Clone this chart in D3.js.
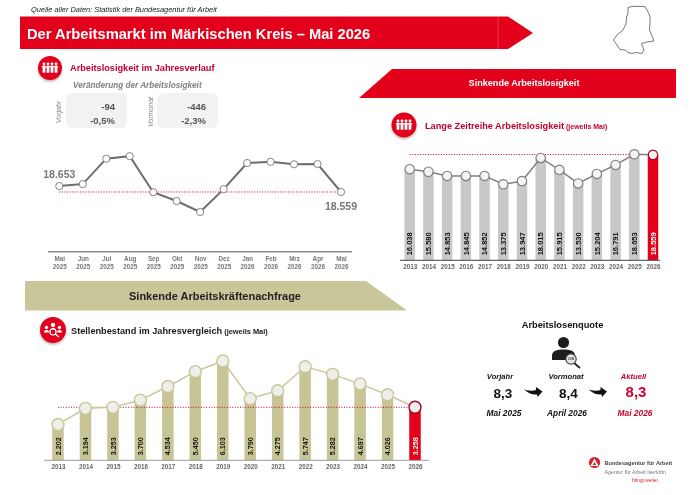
<!DOCTYPE html>
<html lang="de">
<head>
<meta charset="utf-8">
<script src="https://cdn.jsdelivr.net/npm/d3@7"></script>
<style>
html,body{margin:0;padding:0;background:#fff}
svg{display:block;filter:blur(.3px)}
text{font-family:"Liberation Sans",Arial,sans-serif}
</style>
</head>
<body>
<svg id="c" width="700" height="495" viewBox="0 0 700 495"></svg>
<script>
const monthNames = ["Mai","Jun","Jul","Aug","Sep","Okt","Nov","Dez","Jan","Feb","Mrz","Apr","Mai"];
const monthYears = ["2025","2025","2025","2025","2025","2025","2025","2025","2026","2026","2026","2026","2026"];
const monthlyValues = [18653,18685,19090,19130,18555,18415,18240,18605,19020,19040,19000,19005,18559];
const years = [2013,2014,2015,2016,2017,2018,2019,2020,2021,2022,2023,2024,2025,2026];
const longSeries = [16038,15580,14853,14845,14852,13375,13947,18015,15915,13530,15204,16791,18653,18559];
const jobSeries = [2202,3194,3253,3700,4534,5450,6103,3790,4275,5747,5282,4697,4026,3258];
const fmt = d3.format(",");
const deNum = v => fmt(v).replace(/,/g,".");

const RED="#e2001a", CRIM="#c4002f", TAN="#c7c495", TANL="#c9c69a";
const svg = d3.select("#c");
const defs = svg.append("defs");
const f = defs.append("filter").attr("id","sh").attr("x","-30%").attr("y","-30%").attr("width","160%").attr("height","170%");
f.append("feDropShadow").attr("dx",0).attr("dy",1.5).attr("stdDeviation",1.2).attr("flood-color","#000").attr("flood-opacity",.3);

function T(x,y,s,o={}){
  return svg.append("text").attr("x",x).attr("y",y).text(s)
    .attr("font-size",o.size||9).attr("font-weight",o.w||"bold")
    .attr("font-style",o.i?"italic":"normal").attr("fill",o.c||"#000")
    .attr("text-anchor",o.a||"start").attr("dominant-baseline","central")
    .attr("transform",o.r?`rotate(${o.r} ${x} ${y})`:null);
}

/* banners */
svg.append("path").attr("d","M20 16.5H508L533 33L508 49H20Z").attr("fill",RED);
svg.append("line").attr("x1",498).attr("x2",498).attr("y1",16.5).attr("y2",49).attr("stroke","#f0505f").attr("stroke-width",.7);
svg.append("path").attr("d","M392 69H676V98H359Z").attr("fill",RED);
svg.append("path").attr("d","M25 281H366L407 310.5H25Z").attr("fill",TANL);

T(31,9.5,"Quelle aller Daten: Statistik der Bundesagentur für Arbeit",{size:7.4,w:"normal",i:1,c:"#222"});
T(27,33.5,"Der Arbeitsmarkt im Märkischen Kreis – Mai 2026",{size:14.7,c:"#fff"});
T(524,83,"Sinkende Arbeitslosigkeit",{size:9.1,c:"#fff",a:"middle"});
T(215,296,"Sinkende Arbeitskräftenachfrage",{size:11,c:"#222",a:"middle"});

/* district outline */
svg.append("path").attr("fill","none").attr("stroke","#555").attr("stroke-width",.8)
 .attr("d","M628 7.5L632 6.5L639 6.3L645 6.7L647 10L649 14L650 17L650 23L649.5 30L651.5 35L653 38L653.5 41L647 42L641.5 43.5L644 50L642 53.5L636 52.5L632 53.5L628 52.5L625 50L620 49.5L617 45L613.5 40L617 35L623 30L626 24L626.5 17L628 13Z");

/* round icons */
function peopleIcon(cx,cy,r){
  const g=svg.append("g");
  g.append("circle").attr("cx",cx).attr("cy",cy).attr("r",r).attr("fill",RED).attr("filter","url(#sh)");
  [-6,-2,2,6].forEach(dx=>{
    g.append("circle").attr("cx",cx+dx).attr("cy",cy-4.2).attr("r",1.4).attr("fill","#fff");
    g.append("rect").attr("x",cx+dx-1.4).attr("y",cy-2.6).attr("width",2.8).attr("height",7.4).attr("rx",.6).attr("fill","#fff");
  });
  g.append("rect").attr("x",cx-8.2).attr("y",cy-1.8).attr("width",16.4).attr("height",1.2).attr("fill","#fff");
}
peopleIcon(50,68,12);
peopleIcon(404,125,12.5);
{
  const cx=53,cy=330,g=svg.append("g");
  g.append("circle").attr("cx",cx).attr("cy",cy).attr("r",13).attr("fill",RED).attr("filter","url(#sh)");
  [[-6.5,-2.5,1.7],[6.5,-2.5,1.7],[0,-5,2.2]].forEach(([dx,dy,r])=>{
    g.append("circle").attr("cx",cx+dx).attr("cy",cy+dy).attr("r",r).attr("fill","#fff");
    g.append("path").attr("d",`M${cx+dx-r*1.5} ${cy+dy+r*3}a${r*1.5} ${r*1.6} 0 0 1 ${r*3} 0Z`).attr("fill","#fff");
  });
  g.append("circle").attr("cx",cx).attr("cy",cy+2).attr("r",3).attr("fill",RED).attr("stroke","#fff").attr("stroke-width",1.2);
  g.append("line").attr("x1",cx+2).attr("y1",cy+4).attr("x2",cx+6).attr("y2",cy+7).attr("stroke","#fff").attr("stroke-width",1.4);
}

/* section titles */
T(70,68,"Arbeitslosigkeit im Jahresverlauf",{size:9.2,c:CRIM});
T(73,85,"Veränderung der Arbeitslosigkeit",{size:8.2,c:"#808080",i:1});
T(425,126,"Lange Zeitreihe Arbeitslosigkeit",{size:9.2,c:CRIM})
  .append("tspan").text(" (jeweils Mai)").attr("font-size",7);
T(71,331,"Stellenbestand im Jahresvergleich",{size:9.2,c:"#1a1a1a"})
  .append("tspan").text(" (jeweils Mai)").attr("font-size",7.4);

/* change boxes */
[[66,"Vorjahr","-94","-0,5%",58],[157,"Vormonat","-446","-2,3%",150]].forEach(([x,l,a,b,lx])=>{
  svg.append("rect").attr("x",x).attr("y",93).attr("width",61).attr("height",35).attr("rx",6).attr("fill","#f2f2f2");
  T(lx,112,l,{size:7,w:"normal",i:1,c:"#888",a:"middle",r:-90});
  T(x+49,106.5,a,{size:9.5,c:"#555",a:"end"});
  T(x+49,120,b,{size:9.5,c:"#555",a:"end"});
});

/* ---- monthly line chart ---- */
const x1 = d3.scalePoint().domain(d3.range(monthlyValues.length)).range([59.3,341]);
const y1 = d3.scaleLinear().domain([17608,19005]).range([251.7,164]);
{
  const ax = svg.append("g").attr("transform","translate(0,251.7)")
    .call(d3.axisBottom(x1).tickSize(0).tickFormat(""));
  ax.select(".domain").attr("d","M48 0H352").attr("stroke","#8a8a8a").attr("stroke-width",1.4);
  ax.selectAll(".tick text").remove();
  ax.selectAll(".tick").append("text").attr("fill","#777").attr("font-size",6.3).attr("font-weight","bold")
    .attr("text-anchor","middle").each(function(i){
      const t=d3.select(this);
      t.append("tspan").attr("x",0).attr("y",9.5).text(monthNames[i]);
      t.append("tspan").attr("x",0).attr("y",17.5).text(monthYears[i]);
    });
  const last = monthlyValues[monthlyValues.length-1];
  svg.append("line").attr("x1",x1(0)).attr("x2",x1(12)).attr("y1",y1(last)).attr("y2",y1(last))
    .attr("stroke",CRIM).attr("stroke-width",1).attr("stroke-dasharray","1 1.6");
  svg.append("path").datum(monthlyValues).attr("fill","none").attr("stroke","#6e6e6e").attr("stroke-width",2)
    .attr("d",d3.line().x((d,i)=>x1(i)).y(d=>y1(d)));
  svg.append("g").selectAll("circle").data(monthlyValues).join("circle")
    .attr("cx",(d,i)=>x1(i)).attr("cy",d=>y1(d)).attr("r",3.6)
    .attr("fill","#fff").attr("stroke","#777").attr("stroke-width",.9);
  T(x1(0),173.5,deNum(monthlyValues[0]),{size:10.5,c:"#777",a:"middle"});
  T(x1(12),206,deNum(last),{size:10.5,c:"#777",a:"middle"});
}

/* ---- bar + line combos ---- */
function combo(o){
  const x = d3.scalePoint().domain(o.years).range(o.xr);
  const y = d3.scaleLinear().domain([0,o.ref]).range([o.base,o.top]);
  const n = o.values.length-1;
  svg.append("g").selectAll("rect").data(o.values).join("rect")
    .attr("x",(d,i)=>x(o.years[i])-o.bw/2).attr("y",d=>y(d))
    .attr("width",o.bw).attr("height",d=>o.base-y(d))
    .attr("rx",0)
    .attr("fill",(d,i)=>i===n?RED:o.bar);
  const ax = svg.append("g").attr("transform",`translate(0,${o.base})`)
    .call(d3.axisBottom(x).tickSize(0).tickPadding(o.tp));
  ax.select(".domain").attr("d",`M${o.ax[0]} 0H${o.ax[1]}`).attr("stroke",o.axc).attr("stroke-width",o.axw);
  ax.selectAll(".tick text").attr("fill","#666").attr("font-size",6.3).attr("font-weight","bold")
    .attr("font-family",'"Liberation Sans",Arial,sans-serif');
  const ly = y(o.values[n]) ;
  svg.append("line").attr("x1",x(o.years[0])).attr("x2",x(o.years[n])).attr("y1",o.dot||ly).attr("y2",o.dot||ly)
    .attr("stroke",CRIM).attr("stroke-width",1).attr("stroke-dasharray","1 1.6");
  svg.append("path").datum(o.values).attr("fill","none").attr("stroke",o.lc).attr("stroke-width",o.lw)
    .attr("d",d3.line().x((d,i)=>x(o.years[i])).y(d=>y(d)));
  svg.append("g").selectAll("circle").data(o.values).join("circle")
    .attr("cx",(d,i)=>x(o.years[i])).attr("cy",d=>y(d)).attr("r",o.r)
    .attr("fill",o.cf).attr("stroke",(d,i)=>i===n?"#a80030":o.cs).attr("stroke-width",o.csw);
  svg.append("g").selectAll("text").data(o.values).join("text")
    .text(deNum)
    .attr("transform",(d,i)=>`translate(${x(o.years[i])+o.fs*.36},${o.base-5}) rotate(-90)`)
    .attr("font-size",o.fs).attr("font-weight","bold")
    .attr("fill",(d,i)=>i===n?"#fff":"#111");
}
combo({years,values:longSeries,xr:[409.7,653],ref:18653,base:260.3,top:154.3,bw:10.5,bar:"#c8c8c8",
  ax:[400,660],axc:"#666",axw:1.2,tp:4,lc:"#808080",lw:1.5,r:4.7,cf:"#f4f4f2",cs:"#7a7a7a",csw:1.1,fs:7.5,dot:154.5,
});
combo({years,values:jobSeries,xr:[58,415],ref:6103,base:460.3,top:361,bw:11.5,bar:TAN,
  ax:[44,429],axc:"#9a9a9a",axw:1,tp:4.5,lc:"#c9c69a",lw:1.5,r:6,cf:"#efeee8",cs:"#c9c69a",csw:1.4,fs:7.2,
});

/* ---- Arbeitslosenquote ---- */
T(562.5,325,"Arbeitslosenquote",{size:9.3,c:"#111",a:"middle"});
svg.append("circle").attr("cx",563.5).attr("cy",342.5).attr("r",5.6).attr("fill","#1c1c1c");
svg.append("path").attr("d","M552 360V355.5C552 351 557 349.5 563.5 349.5C570 349.5 575 351 575 355.5V360Z").attr("fill","#1c1c1c");
svg.append("line").attr("x1",574).attr("y1",363).attr("x2",580).attr("y2",368).attr("stroke","#222").attr("stroke-width",1.8);
svg.append("circle").attr("cx",571).attr("cy",359).attr("r",5.2).attr("fill","#e8e8e8").attr("stroke","#444").attr("stroke-width",1.2);
T(571,359,"JOB",{size:3.2,c:"#444",a:"middle"});
[[500,503,504,"Vorjahr","8,3","Mai 2025","#111",13.5],[566,568.5,567,"Vormonat","8,4","April 2026","#111",13.5],[633.5,636,635,"Aktuell","8,3","Mai 2026",CRIM,15]].forEach(([a,b,c,l,v,m,col,sz])=>{
  T(a,376.7,l,{size:7.6,i:1,c:col,a:"middle"});
  T(b,col===CRIM?391.5:393,v,{size:sz,c:col===CRIM?"#d4002a":col,a:"middle"});
  T(c,413,m,{size:8.4,i:1,c:col,a:"middle"});
});
[524,588.5].forEach(x=>{
  svg.append("path").attr("fill","#111")
   .attr("d",`M${x} 389.5C${x+5} 391 ${x+9} 391 ${x+12} 390L${x+12} 387L${x+18.5} 391.5L${x+13.5} 397L${x+13} 394.5C${x+8} 395 ${x+4} 393 ${x} 389.5Z`);
});

/* logo */
svg.append("circle").attr("cx",594.5).attr("cy",462.5).attr("r",5.6).attr("fill","#d8232a");
svg.append("path").attr("d","M594.5 458.5L598.6 466H590.4Z").attr("fill","#fff");
svg.append("path").attr("d","M594.5 461.8L596.2 465H592.8Z").attr("fill","#d8232a");
T(604.5,463,"Bundesagentur für Arbeit",{size:5.6,c:"#444"});
T(604.5,472,"Agentur für Arbeit Iserlohn",{size:5.3,w:"normal",c:"#777"});
T(632,480.5,"bringt weiter.",{size:4.8,w:"normal",c:"#d8232a"});
</script>
</body>
</html>
